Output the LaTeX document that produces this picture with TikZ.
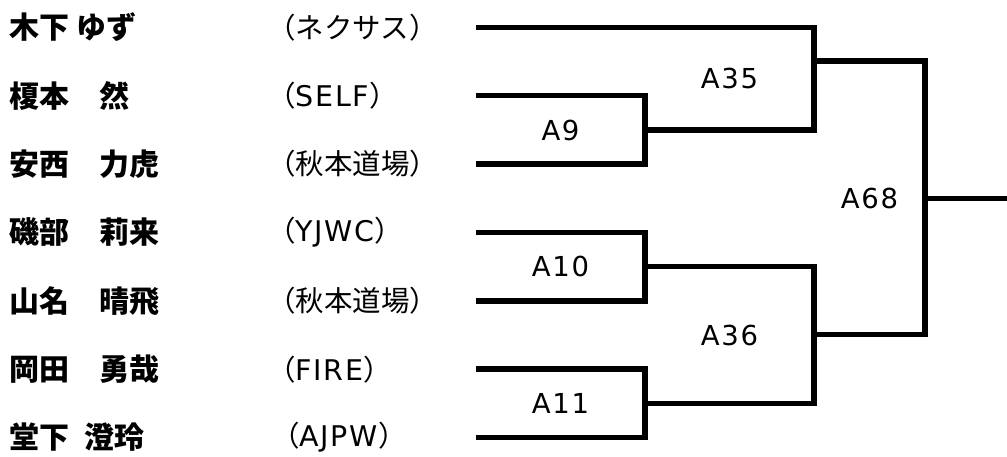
\documentclass[tikz,border=0pt]{standalone}
\usepackage{fontspec}
\setmainfont{DejaVu Sans}
\newfontfamily\jpfont{Noto Sans CJK JP}
\newfontfamily\latinfont{DejaVu Sans}[LetterSpace=6]
\usepackage{tikz}

\tikzset{
  player/.style={anchor=west, inner sep=0pt, font=\jpfont\bfseries\fontsize{30}{34}\selectfont},
  club/.style={anchor=west, inner sep=0pt, font=\jpfont\fontsize{28.5}{32}\selectfont},
  bout/.style={inner sep=0pt, font=\latinfont\fontsize{27.5}{31}\selectfont},
  bracket/.style={line width=5.5pt, black}
}

\begin{document}
\begin{tikzpicture}[x=1pt,y=-1pt]
\useasboundingbox (0,0) rectangle (1007,457);

% Players and clubs
\node[player] (n1) at (9,27.3) {木下 ゆず};
\node[club] (c1) at (267,27.3) {（ネクサス）};
\node[player] (n2) at (9,95.7) {榎本　然};
\node[club] (c2) at (267,95.7) {（{\latinfont SELF}）};
\node[player] (n3) at (9,164) {安西　力虎};
\node[club] (c3) at (267,164) {（秋本道場）};
\node[player] (n4) at (9,232.4) {磯部　莉来};
\node[club] (c4) at (267,232.4) {（{\latinfont YJWC}）};
\node[player] (n5) at (9,300.8) {山名　晴飛};
\node[club] (c5) at (267,300.8) {（秋本道場）};
\node[player] (n6) at (9,369.2) {岡田　勇哉};
\node[club] (c6) at (267,369.2) {（{\latinfont FIRE}）};
\node[player] (n7) at (9,437.5) {堂下 \kern8pt澄玲};
\node[club] (c7) at (271,437.5) {（{\latinfont AJPW}）};

% Line starts
\coordinate (p1) at (476,27.3);
\coordinate (p2) at (476,95.7);
\coordinate (p3) at (476,164);
\coordinate (p4) at (476,232.4);
\coordinate (p5) at (476,300.8);
\coordinate (p6) at (476,369.2);
\coordinate (p7) at (476,437.5);

% Junctions
\coordinate (m9) at (645,129.85);
\coordinate (m10) at (645,266.6);
\coordinate (m11) at (645,403.35);
\coordinate (m35) at (814,60.8);
\coordinate (m36) at (814,334.7);
\coordinate (m68) at (925,198.7);
\coordinate (win) at (1007,198.7);

% First round
\draw[bracket] (p2) -| (m9) |- (p3);
\draw[bracket] (p4) -| (m10) |- (p5);
\draw[bracket] (p6) -| (m11) |- (p7);

% Second round
\draw[bracket] (p1) -| (m35) |- (m9);
\draw[bracket] (m10) -| (m36) |- (m11);

% Final
\draw[bracket] (m35) -| (m68) |- (m36);
\draw[bracket] (m68) -- (win);

% Bout numbers
\node[bout] (a9) at (560.5,130) {A9};
\node[bout] (a10) at (560.5,266.7) {A10};
\node[bout] (a11) at (560.5,403.3) {A11};
\node[bout] (a35) at (729.5,78.3) {A35};
\node[bout] (a36) at (729.5,335.3) {A36};
\node[bout] (a68) at (869.5,198.5) {A68};
\end{tikzpicture}
\end{document}
